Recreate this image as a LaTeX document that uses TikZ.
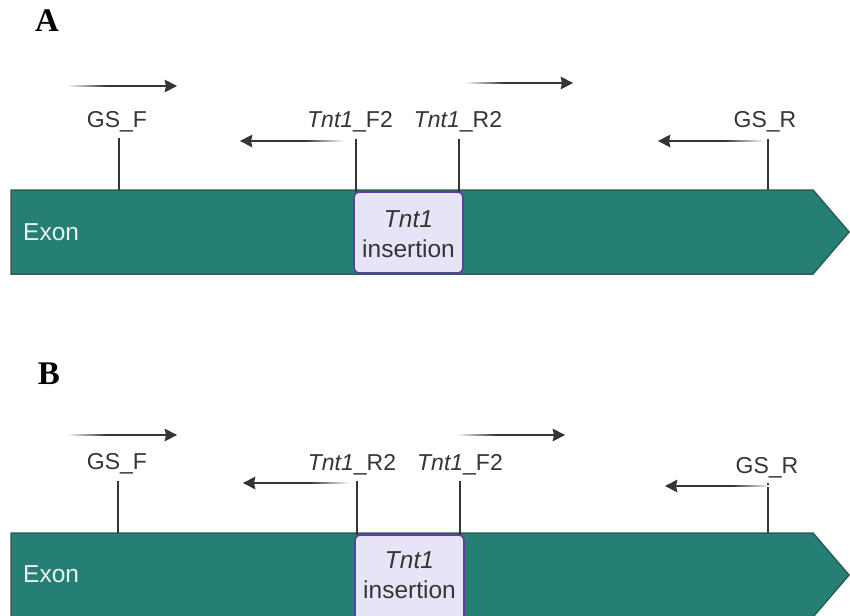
\documentclass[tikz,border=0pt]{standalone}
\usepackage{fontspec}
\setmainfont{Liberation Sans}
\newfontfamily\panelfont{Liberation Serif}

\definecolor{exonfill}{HTML}{267F74}
\definecolor{exonedge}{HTML}{2E5C56}
\definecolor{insfill}{HTML}{E7E4F7}
\definecolor{insedge}{HTML}{5B3FA0}
\definecolor{inkgray}{HTML}{353535}
\definecolor{exontext}{HTML}{EAF3F1}

% primer direction arrows: tail fades out in small steps, solid shaft,
% triangular head.  \fwdarrow{tail x}{tip x}{y}, \revarrow{tip x}{tail x}{y}
\newcommand\fwdarrow[3]{%
  \foreach \k in {0,...,19}{%
    \pgfmathsetmacro\shadepct{(\k+0.5)*5}%
    \fill[inkgray!\shadepct!white] (#1+2*\k,#3-1.35) rectangle (#1+2*\k+2.15,#3+1.35);
  }
  \fill[inkgray] (#1+40,#3-1.35) rectangle (#2-9,#3+1.35);
  \fill[inkgray] (#2,#3) -- (#2-12.5,#3-6.5) -- (#2-11,#3) -- (#2-12.5,#3+6.5) -- cycle;
}
\newcommand\revarrow[3]{%
  \foreach \k in {0,...,19}{%
    \pgfmathsetmacro\shadepct{(\k+0.5)*5}%
    \fill[inkgray!\shadepct!white] (#2-2*\k,#3-1.35) rectangle (#2-2*\k-2.15,#3+1.35);
  }
  \fill[inkgray] (#1+9,#3-1.35) rectangle (#2-40,#3+1.35);
  \fill[inkgray] (#1,#3) -- (#1+12.5,#3-6.5) -- (#1+11,#3) -- (#1+12.5,#3+6.5) -- cycle;
}

\tikzset{
  primerlabel/.style={text=inkgray, inner sep=0pt, font=\fontsize{23}{27}\selectfont},
  panellabel/.style={inner sep=0pt, font=\panelfont\bfseries\fontsize{33}{36}\selectfont},
  exonbody/.style={fill=exonfill, draw=exonedge, line width=1.5pt, line join=miter},
  insbox/.style={fill=insfill, draw=insedge, line width=1.6pt, rounded corners=5pt},
  instext/.style={text=inkgray, inner sep=0pt, align=center,
    font=\fontsize{24.5}{30}\selectfont},
  exonlabel/.style={text=exontext, inner sep=0pt, anchor=west,
    font=\fontsize{24.5}{27}\selectfont},
  site/.style={draw=inkgray, line width=1.8pt},
}

\begin{document}
\begin{tikzpicture}[x=1pt, y=-1pt]
\useasboundingbox (0,0) rectangle (850,615);
\clip (0,0) rectangle (850,615);

% ---------- panel A ----------
\node[panellabel] (labA) at (47,21) {A};

\draw[exonbody] (11,190) -- (813,190) -- (849,232) -- (813,274) -- (11,274) -- cycle;
\node[exonlabel] (exonA) at (23,232) {Exon};
\draw[insbox] (354,192) rectangle (463,273);
\node[instext] (insA) at (408.5,234) {\itshape Tnt1\\insertion};

\node[primerlabel] (gsfA) at (117,122) {GS\_F};
\node[primerlabel] (tfA) at (350,122) {\itshape Tnt1\upshape\_F2};
\node[primerlabel] (trA) at (458,122) {\itshape Tnt1\upshape\_R2};
\node[primerlabel] (gsrA) at (765,122) {GS\_R};

\coordinate (gsfAt) at (119,138); \coordinate (gsfAb) at (119,190);
\coordinate (tfAt)  at (356,139); \coordinate (tfAb)  at (356,192);
\coordinate (trAt)  at (459,139); \coordinate (trAb)  at (459,192);
\coordinate (gsrAt) at (768,139); \coordinate (gsrAb) at (768,190);
\draw[site] (gsfAt) -- (gsfAb);
\draw[site] (tfAt) -- (tfAb);
\draw[site] (trAt) -- (trAb);
\draw[site] (gsrAt) -- (gsrAb);

\fwdarrow{67}{177}{86}
\revarrow{240}{345}{141}
\fwdarrow{465}{573}{83}
\revarrow{658}{765}{141}

% ---------- panel B ----------
\node[panellabel] (labB) at (49,374) {B};

\draw[exonbody] (11,533) -- (813,533) -- (849,575) -- (813,617) -- (11,617) -- cycle;
\node[exonlabel] (exonB) at (23,574) {Exon};
\draw[insbox] (355,535) rectangle (464,625);
\node[instext] (insB) at (409.5,575) {\itshape Tnt1\\insertion};

\node[primerlabel] (gsfB) at (117,464) {GS\_F};
\node[primerlabel] (trB) at (352,465) {\itshape Tnt1\upshape\_R2};
\node[primerlabel] (tfB) at (460,465) {\itshape Tnt1\upshape\_F2};
\node[primerlabel] (gsrB) at (767,468) {GS\_R};

\coordinate (gsfBt) at (118,481); \coordinate (gsfBb) at (118,533);
\coordinate (trBt)  at (357,481); \coordinate (trBb)  at (357,535);
\coordinate (tfBt)  at (460,481); \coordinate (tfBb)  at (460,535);
\coordinate (gsrBt) at (768,483); \coordinate (gsrBb) at (768,533);
\draw[site] (gsfBt) -- (gsfBb);
\draw[site] (trBt) -- (trBb);
\draw[site] (tfBt) -- (tfBb);
\draw[site] (gsrBt) -- (gsrBb);

\fwdarrow{67}{177}{435}
\revarrow{243}{350}{483}
\fwdarrow{457}{565}{435}
\revarrow{665}{772}{486}
\end{tikzpicture}
\end{document}
